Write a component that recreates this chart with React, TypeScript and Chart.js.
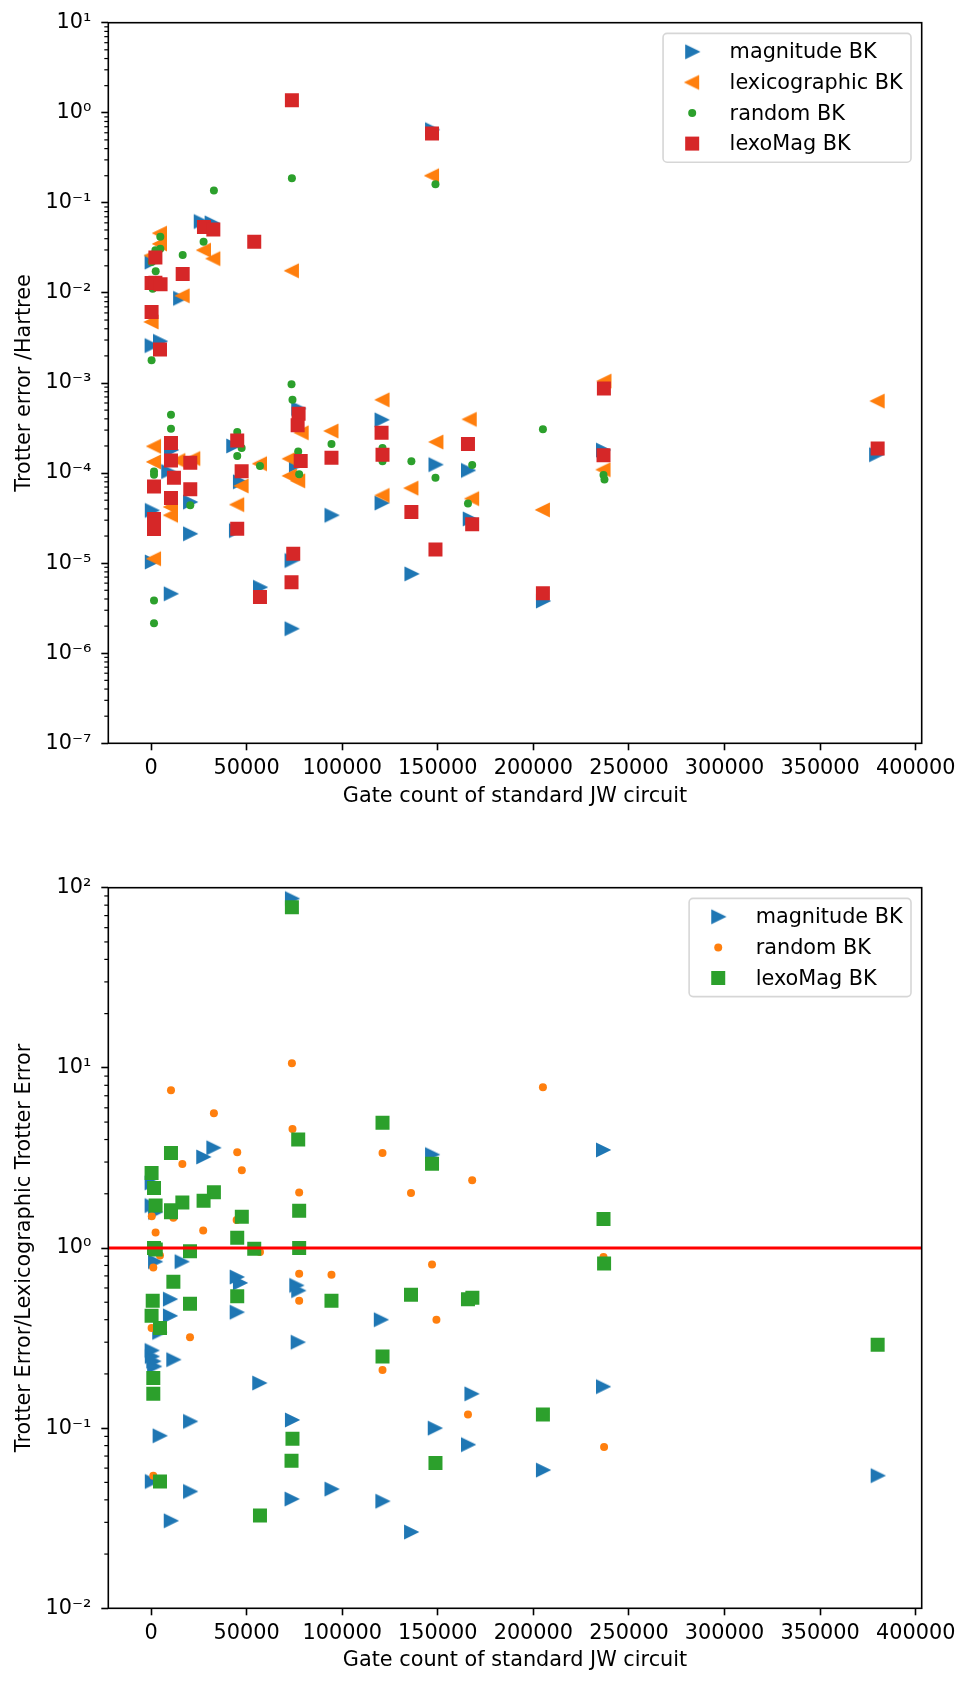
import React, { useEffect, useRef } from 'react';
import { Chart, registerables } from 'chart.js';

Chart.register(...registerables);
Chart.defaults.font.family = "'DejaVu Sans', sans-serif";

// ---------------- axis settings ----------------
const X_MIN = -22340;
const X_MAX = 403140;
const xTickValues = [0, 50000, 100000, 150000, 200000, 250000, 300000, 350000, 400000];
const xTitle = 'Gate count of standard JW circuit';

const topYTicks = [1e-7, 1e-6, 1e-5, 1e-4, 1e-3, 1e-2, 1e-1, 1, 10];
const topYTitle = 'Trotter error /Hartree';
const bottomYTicks = [1e-2, 1e-1, 1, 10, 100];
const bottomYTitle = 'Trotter Error/Lexicographic Trotter Error';
const refRatio = 1;

// ---------------- top panel data [gate count, error] ----------------
const topMagnitude: [number, number][] = [
  [147000, 0.65], [26000, 0.062], [31700, 0.06], [15200, 0.0087], [300, 0.022], [300, 0.0026], [4700, 0.0029],
  [77000, 5.2e-4], [75800, 1.22e-4], [73500, 1.07e-5], [73500, 1.87e-6], [10450, 1.8e-4], [9000, 1.04e-4],
  [20400, 4.76e-5], [400, 3.85e-5], [20400, 2.12e-5], [400, 1.03e-5], [10300, 4.57e-6], [43000, 2.0e-4],
  [46500, 8.0e-5], [44400, 2.3e-5], [57000, 5.4e-6], [120600, 3.9e-4], [120600, 4.65e-5], [94400, 3.4e-5],
  [136200, 7.6e-6], [148800, 1.24e-4], [165800, 1.07e-4], [166700, 3.1e-5], [236400, 1.8e-4], [205000, 3.8e-6],
  [379300, 1.6e-4],
];
const topLexicographic: [number, number][] = [
  [147000, 0.2], [27700, 0.0298], [32600, 0.024], [73700, 0.0176], [16570, 0.0093], [4700, 0.046], [4700, 0.035],
  [400, 0.026], [300, 0.00476], [78800, 2.8e-4], [72600, 1.44e-4], [72600, 9.3e-5], [77000, 8.2e-5],
  [1570, 1.98e-4], [1570, 1.33e-4], [14300, 1.38e-4], [22100, 1.45e-4], [10450, 4.2e-5], [10450, 3.4e-5],
  [1570, 1.12e-5], [57000, 1.27e-4], [47400, 7.2e-5], [45100, 4.46e-5], [121100, 6.5e-4], [121100, 5.65e-5],
  [94400, 2.93e-4], [136200, 6.8e-5], [149300, 2.21e-4], [166700, 3.95e-4], [168000, 5.2e-5], [237200, 1.05e-3],
  [236700, 1.09e-4], [205000, 3.9e-5], [380100, 6.3e-4],
];
const topRandom: [number, number][] = [
  [73700, 0.188], [148800, 0.161], [32900, 0.137], [27500, 0.037], [16570, 0.0264], [4860, 0.042], [4860, 0.031],
  [2300, 0.0298], [300, 0.022], [2450, 0.0174], [890, 0.0111], [300, 0.00179], [73500, 9.7e-4], [74000, 6.5e-4],
  [77000, 1.74e-4], [77500, 9.7e-5], [10450, 4.45e-4], [10450, 3.1e-4], [1570, 1.04e-4], [1570, 9.6e-5],
  [20540, 4.4e-5], [1570, 3.85e-6], [1570, 2.15e-6], [45100, 2.86e-4], [47400, 1.9e-4], [45100, 1.55e-4],
  [57000, 1.2e-4], [121100, 1.9e-4], [121100, 1.35e-4], [94400, 2.1e-4], [136200, 1.35e-4], [148800, 8.9e-5],
  [168000, 1.23e-4], [165800, 4.6e-5], [205000, 3.06e-4], [236700, 9.5e-5], [237200, 8.5e-5],
];
const topLexoMag: [number, number][] = [
  [73700, 1.38], [147000, 0.59], [27700, 0.054], [32600, 0.0506], [54000, 0.037], [16570, 0.0162], [2300, 0.0247],
  [300, 0.0129], [2300, 0.013], [5000, 0.0125], [300, 0.00615], [4700, 0.00235], [77200, 4.57e-4], [76700, 3.4e-4],
  [78300, 1.36e-4], [74400, 1.27e-5], [73500, 6.15e-6], [10450, 2.16e-4], [10450, 1.38e-4], [20540, 1.3e-4],
  [12000, 8.9e-5], [1570, 7.1e-5], [20540, 6.6e-5], [10450, 5.3e-5], [1570, 3.1e-5], [1570, 2.7e-5], [1570, 2.4e-5],
  [45100, 2.3e-4], [47400, 1.05e-4], [45100, 2.41e-5], [57000, 4.2e-6], [120600, 2.8e-4], [121100, 1.6e-4],
  [94400, 1.48e-4], [136200, 3.7e-5], [148800, 1.42e-5], [165800, 2.1e-4], [168000, 2.7e-5], [236900, 8.7e-4],
  [236700, 1.58e-4], [205000, 4.64e-6], [380100, 1.87e-4],
];

// ---------------- bottom panel data [gate count, ratio] ----------------
const bottomMagnitude: [number, number][] = [
  [73700, 87], [27300, 3.2], [32600, 3.6], [147000, 3.3], [236400, 3.5], [300, 2.3], [300, 1.72], [2100, 1.58],
  [2100, 0.84], [16000, 0.84], [44800, 0.69], [46500, 0.64], [76000, 0.62], [77000, 0.58], [9900, 0.52],
  [44800, 0.44], [9900, 0.42], [120200, 0.4], [4300, 0.34], [76700, 0.3], [300, 0.27], [400, 0.25], [1200, 0.235],
  [1600, 0.22], [11650, 0.24], [56600, 0.178], [236400, 0.17], [167600, 0.155], [20400, 0.109], [73700, 0.111],
  [148400, 0.1], [4500, 0.0907], [165800, 0.081], [205000, 0.0585], [380100, 0.0545], [400, 0.0506],
  [20400, 0.0445], [94400, 0.0459], [73500, 0.0404], [121000, 0.0393], [10300, 0.0306], [136000, 0.0265],
];
const bottomRandom: [number, number][] = [
  [73700, 10.6], [10450, 7.5], [32900, 5.6], [74000, 4.58], [121100, 3.37], [168000, 2.38], [136000, 2.02],
  [45100, 3.4], [47500, 2.7], [77500, 2.03], [16400, 2.93], [205000, 7.8], [400, 1.5], [11700, 1.47], [44800, 1.43],
  [2400, 1.22], [27300, 1.25], [4700, 0.91], [57000, 0.95], [1200, 0.78], [77500, 0.72], [94400, 0.71],
  [147000, 0.81], [77500, 0.51], [149300, 0.4], [300, 0.36], [20400, 0.32], [121100, 0.21], [165800, 0.119],
  [237000, 0.0787], [1200, 0.0545], [236700, 0.89], [380100, 0.29],
];
const bottomLexoMag: [number, number][] = [
  [73700, 78], [121100, 4.95], [77000, 4.0], [10450, 3.37], [147000, 2.94], [300, 2.61], [1570, 2.15],
  [32900, 2.04], [27500, 1.83], [16400, 1.79], [2400, 1.72], [10450, 1.62], [10450, 1.58], [77500, 1.61],
  [47500, 1.49], [45100, 1.14], [1570, 1.0], [2500, 0.98], [20400, 0.96], [54000, 0.99], [77500, 1.0],
  [11700, 0.65], [45100, 0.54], [890, 0.51], [20400, 0.49], [94400, 0.51], [136000, 0.55], [165800, 0.52],
  [168100, 0.53], [300, 0.42], [4700, 0.36], [121100, 0.25], [1200, 0.19], [1200, 0.155], [74000, 0.0873],
  [73500, 0.066], [148800, 0.064], [4700, 0.0506], [57000, 0.0327], [236700, 1.45], [237000, 0.82],
  [205000, 0.119], [380100, 0.29],
];

// ---------------- styling ----------------
const C_BLUE = '#1f77b4';
const C_ORANGE = '#ff7f0e';
const C_GREEN = '#2ca02c';
const C_RED = '#d62728';
const FONT_SIZE = 20.8;

const SUP: Record<string, string> = {
  '-': '\u207B', '0': '\u2070', '1': '\u00B9', '2': '\u00B2', '3': '\u00B3', '4': '\u2074',
  '5': '\u2075', '6': '\u2076', '7': '\u2077', '8': '\u2078', '9': '\u2079',
};
const powLabel = (v: number) =>
  '10' + String(Math.round(Math.log10(v))).split('').map((c) => SUP[c] || c).join('');

function triangleMarker(color: string, dir: 1 | -1): HTMLCanvasElement {
  const c = document.createElement('canvas');
  c.width = 18;
  c.height = 18;
  const g = c.getContext('2d')!;
  const m = 9;
  const h = 6;
  g.fillStyle = color;
  g.strokeStyle = color;
  g.lineWidth = 2;
  g.lineJoin = 'miter';
  g.beginPath();
  g.moveTo(m + dir * h, m);
  g.lineTo(m - dir * h, m - h);
  g.lineTo(m - dir * h, m + h);
  g.closePath();
  g.fill();
  g.stroke();
  return c;
}

function drawLegendMarker(ctx: CanvasRenderingContext2D, ds: any, x: number, y: number) {
  const ps = ds.pointStyle;
  ctx.save();
  if (ps && typeof ps === 'object') {
    ctx.drawImage(ps, x - ps.width / 2, y - ps.height / 2);
  } else if (ps === 'rect') {
    const s = ds.pointRadius * Math.SQRT1_2;
    ctx.fillStyle = ds.backgroundColor;
    ctx.fillRect(x - s, y - s, 2 * s, 2 * s);
  } else {
    ctx.fillStyle = ds.backgroundColor;
    ctx.beginPath();
    ctx.arc(x, y, ds.pointRadius, 0, Math.PI * 2);
    ctx.fill();
  }
  ctx.restore();
}

const mplDecor = {
  id: 'mplDecor',
  afterDraw(chart: any) {
    const { ctx, chartArea: a, scales } = chart;
    const y = scales.y;
    ctx.save();
    // minor log ticks
    ctx.strokeStyle = '#000';
    ctx.lineWidth = 1.2;
    const lo = Math.round(Math.log10(y.min));
    const hi = Math.round(Math.log10(y.max));
    for (let e = lo; e < hi; e++) {
      for (let k = 2; k <= 9; k++) {
        const p = y.getPixelForValue(k * Math.pow(10, e));
        ctx.beginPath();
        ctx.moveTo(a.left - 4, p);
        ctx.lineTo(a.left, p);
        ctx.stroke();
      }
    }
    // frame
    ctx.lineWidth = 1.6;
    ctx.strokeRect(a.left, a.top, a.right - a.left, a.bottom - a.top);

    // legend inside upper right
    const items = chart.data.datasets.filter((d: any) => d.inLegend);
    ctx.font = `${FONT_SIZE}px 'DejaVu Sans'`;
    const tw = Math.max(...items.map((d: any) => ctx.measureText(d.label).width));
    const fs = FONT_SIZE;
    const w = 3.2 * fs + tw + 0.4 * fs;
    const h = 37 + (items.length - 1) * 30.6;
    const right = a.right - 10.7;
    const top = a.top + 10.7;
    const left = right - w;
    const r = 4;
    ctx.beginPath();
    ctx.moveTo(left + r, top);
    ctx.lineTo(right - r, top);
    ctx.arcTo(right, top, right, top + r, r);
    ctx.lineTo(right, top + h - r);
    ctx.arcTo(right, top + h, right - r, top + h, r);
    ctx.lineTo(left + r, top + h);
    ctx.arcTo(left, top + h, left, top + h - r, r);
    ctx.lineTo(left, top + r);
    ctx.arcTo(left, top, left + r, top, r);
    ctx.closePath();
    ctx.fillStyle = 'rgba(255,255,255,0.8)';
    ctx.fill();
    ctx.strokeStyle = 'rgba(204,204,204,0.8)';
    ctx.lineWidth = 1.6;
    ctx.stroke();
    items.forEach((d: any, i: number) => {
      const cy = top + 18.4 + i * 30.6;
      drawLegendMarker(ctx, d, left + 1.4 * fs, cy);
      ctx.fillStyle = '#000';
      ctx.textAlign = 'left';
      ctx.textBaseline = 'alphabetic';
      ctx.fillText(d.label, left + 3.2 * fs, cy + 6.6);
    });
    ctx.restore();
  },
};

type PanelProps = {
  top: number;
  height: number;
  padTop: number;
  xAxisHeight: number;
  xTitlePad: number;
  yMin: number;
  yMax: number;
  yTicks: number[];
  yTitle: string;
  makeDatasets: () => any[];
};

const toPts = (arr: [number, number][]) => arr.map(([x, y]) => ({ x, y }));

function Panel(props: PanelProps) {
  const ref = useRef<HTMLCanvasElement | null>(null);
  useEffect(() => {
    const canvas = ref.current!;
    const axisFont = { size: FONT_SIZE, family: "'DejaVu Sans', sans-serif" };
    const grid = {
      display: true,
      drawOnChartArea: false,
      drawTicks: true,
      tickLength: 7,
      tickWidth: 1.6,
      tickColor: '#000',
      color: '#000',
    };
    const chart = new Chart(canvas, {
      type: 'scatter',
      data: { datasets: props.makeDatasets() },
      plugins: [mplDecor],
      options: {
        responsive: false,
        animation: false,
        devicePixelRatio: 1,
        events: [],
        layout: { padding: { top: props.padTop, right: 49.3, bottom: 0, left: 0 } },
        plugins: { legend: { display: false }, tooltip: { enabled: false } },
        scales: {
          x: {
            type: 'linear',
            position: 'bottom',
            min: X_MIN,
            max: X_MAX,
            afterBuildTicks: (s: any) => {
              s.ticks = xTickValues.map((v) => ({ value: v }));
            },
            afterFit: (s: any) => {
              s.height = props.xAxisHeight;
            },
            ticks: {
              callback: (v: any) => String(v),
              color: '#000',
              font: axisFont,
              padding: 5.5,
              maxRotation: 0,
              minRotation: 0,
              autoSkip: false,
            },
            grid,
            border: { display: false },
            title: {
              display: true,
              text: xTitle,
              color: '#000',
              font: axisFont,
              padding: { top: 0, bottom: props.xTitlePad },
            },
          },
          y: {
            type: 'logarithmic',
            position: 'left',
            min: props.yMin,
            max: props.yMax,
            afterBuildTicks: (s: any) => {
              s.ticks = props.yTicks.map((v) => ({ value: v, major: true }));
            },
            afterFit: (s: any) => {
              s.width = 108.3;
            },
            ticks: {
              callback: (v: any) => powLabel(Number(v)),
              color: '#000',
              font: axisFont,
              padding: 10,
              autoSkip: false,
            },
            grid,
            border: { display: false },
            title: {
              display: true,
              text: props.yTitle,
              color: '#000',
              font: axisFont,
              padding: { top: 12.5, bottom: 0 },
            },
          },
        },
      } as any,
    });
    return () => chart.destroy();
  }, []);
  return (
    <canvas
      ref={ref}
      width={971}
      height={props.height}
      style={{ position: 'absolute', left: 0, top: props.top, width: 971, height: props.height, display: 'block' }}
    />
  );
}

function topDatasets() {
  return [
    { label: 'magnitude BK', data: toPts(topMagnitude), pointStyle: triangleMarker(C_BLUE, 1), pointRadius: 7, backgroundColor: C_BLUE, borderWidth: 0, order: 4, inLegend: true },
    { label: 'lexicographic BK', data: toPts(topLexicographic), pointStyle: triangleMarker(C_ORANGE, -1), pointRadius: 7, backgroundColor: C_ORANGE, borderWidth: 0, order: 3, inLegend: true },
    { label: 'random BK', data: toPts(topRandom), pointStyle: 'circle', pointRadius: 4, backgroundColor: C_GREEN, borderWidth: 0, order: 2, inLegend: true },
    { label: 'lexoMag BK', data: toPts(topLexoMag), pointStyle: 'rect', pointRadius: 9.9, backgroundColor: C_RED, borderWidth: 0, order: 1, inLegend: true },
  ];
}

function bottomDatasets() {
  return [
    { label: 'magnitude BK', data: toPts(bottomMagnitude), pointStyle: triangleMarker(C_BLUE, 1), pointRadius: 7, backgroundColor: C_BLUE, borderWidth: 0, order: 4, inLegend: true },
    { label: 'random BK', data: toPts(bottomRandom), pointStyle: 'circle', pointRadius: 4, backgroundColor: C_ORANGE, borderWidth: 0, order: 3, inLegend: true },
    { label: 'lexoMag BK', data: toPts(bottomLexoMag), pointStyle: 'rect', pointRadius: 9.9, backgroundColor: C_GREEN, borderWidth: 0, order: 2, inLegend: true },
    {
      label: 'ratio = 1',
      data: [{ x: X_MIN, y: refRatio }, { x: X_MAX, y: refRatio }],
      showLine: true,
      borderColor: '#ff0000',
      borderWidth: 3,
      pointRadius: 0,
      order: 0,
      inLegend: false,
    },
  ];
}

export default function App() {
  return (
    <div style={{ position: 'absolute', left: 0, top: 0, width: 971, height: 1687, background: '#fff', overflow: 'hidden' }}>
      <Panel
        top={0}
        height={843}
        padTop={22.7}
        xAxisHeight={99.7}
        xTitlePad={34}
        yMin={1e-7}
        yMax={10}
        yTicks={topYTicks}
        yTitle={topYTitle}
        makeDatasets={topDatasets}
      />
      <Panel
        top={843}
        height={844}
        padTop={44.7}
        xAxisHeight={78.7}
        xTitlePad={14}
        yMin={1e-2}
        yMax={100}
        yTicks={bottomYTicks}
        yTitle={bottomYTitle}
        makeDatasets={bottomDatasets}
      />
    </div>
  );
}
